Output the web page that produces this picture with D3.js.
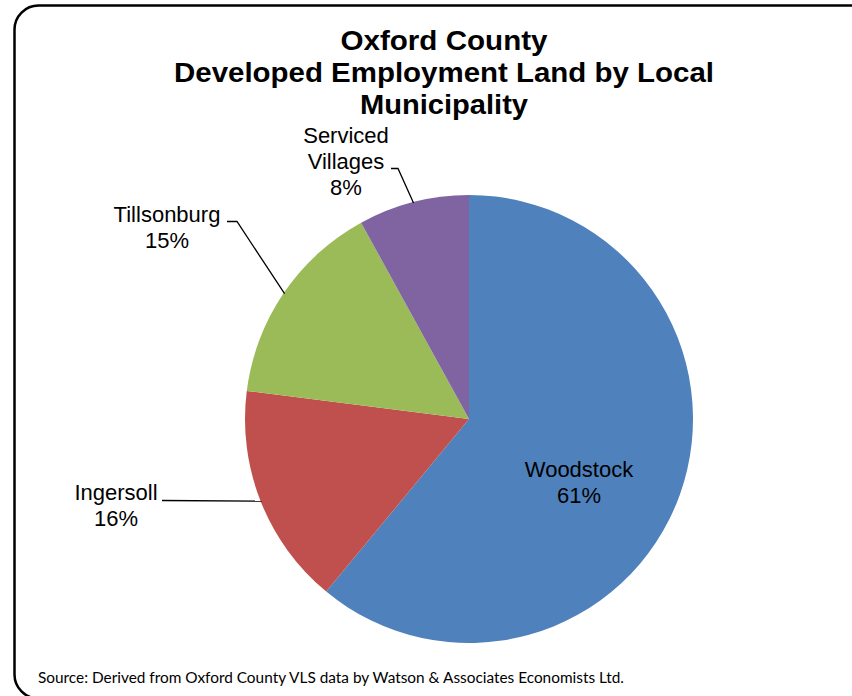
<!DOCTYPE html>
<html>
<head>
<meta charset="utf-8">
<script src="https://cdn.jsdelivr.net/npm/d3@7"></script>
<style>
  html, body { margin: 0; padding: 0; background: #fff; }
  svg { display: block; }
</style>
</head>
<body>
<div id="chart"></div>
<script>
// Developed employment land shares by local municipality (%)
const categories = ["Woodstock", "Ingersoll", "Tillsonburg", "Serviced Villages"];
const shares = [61, 16, 15, 8];
const labelLines = [["Woodstock"], ["Ingersoll"], ["Tillsonburg"], ["Serviced", "Villages"]];
const titleLines = ["Oxford County", "Developed Employment Land by Local", "Municipality"];
const sourceNote = "Source: Derived from Oxford County VLS data by Watson & Associates Economists Ltd.";

const palette = ["#4F81BD", "#C0504D", "#9BBB59", "#8064A2"];

const W = 852, H = 696;
const cx = 469, cy = 419, R = 224;

const svg = d3.select("#chart").append("svg")
  .attr("width", W).attr("height", H);

// chart frame
svg.append("rect")
  .attr("x", 14.5).attr("y", 5.5)
  .attr("width", 900).attr("height", 693)
  .attr("rx", 24).attr("ry", 24)
  .attr("fill", "#fff")
  .attr("stroke", "#000").attr("stroke-width", 2.5);

// title
const titleWidths = [207, 540, 168];
const title = svg.append("g");
titleLines.forEach((t, i) => {
  title.append("text")
    .attr("x", 444).attr("y", 50 + i * 32)
    .attr("text-anchor", "middle")
    .attr("font-family", "'Liberation Sans', Arial, sans-serif")
    .attr("font-weight", "bold")
    .attr("font-size", 27)
    .attr("textLength", titleWidths[i])
    .attr("lengthAdjust", "spacingAndGlyphs")
    .attr("fill", "#000")
    .text(t);
});

// pie
const color = d3.scaleOrdinal().domain(categories).range(palette);
const pie = d3.pie().sort(null).value(d => d.value);
const data = categories.map((c, i) => ({ name: c, value: shares[i], lines: labelLines[i] }));
const arcs = pie(data);
const arc = d3.arc().innerRadius(0).outerRadius(R);

const g = svg.append("g").attr("transform", `translate(${cx},${cy})`);
g.selectAll("path.slice")
  .data(arcs)
  .join("path")
  .attr("class", "slice")
  .attr("d", arc)
  .attr("fill", d => color(d.data.name));

// label placement (relative to pie centre): text anchor point and leader start/elbow
const labelLayout = [
  { x: 110, y: 58, leader: false },
  { x: -353, y: 81, leader: true, lx: -307, ly: 81.5 },
  { x: -302, y: -197, leader: true, lx: -242, ly: -197.5, ex: -232 },
  { x: -123, y: -276, leader: true, lx: -78, ly: -250.5, ex: -71 }
];

const fontLabel = "'Liberation Sans', Arial, sans-serif";
const lineH = 26;

arcs.forEach((a, i) => {
  const L = labelLayout[i];
  const lines = a.data.lines.concat([a.data.value + "%"]);
  const t = g.append("text")
    .attr("text-anchor", "middle")
    .attr("font-family", fontLabel)
    .attr("font-size", 22)
    .attr("fill", "#000");
  lines.forEach((ln, k) => {
    t.append("tspan").attr("x", L.x).attr("y", L.y + k * lineH).text(ln);
  });

  if (L.leader) {
    const mid = (a.startAngle + a.endAngle) / 2;
    const px = (R - 1) * Math.sin(mid), py = -(R - 1) * Math.cos(mid);
    const pts = [[L.lx, L.ly]];
    if (L.ex !== undefined) pts.push([L.ex, L.ly]);
    pts.push([px, py]);
    g.append("path")
      .attr("d", d3.line()(pts))
      .attr("fill", "none")
      .attr("stroke", "#000")
      .attr("stroke-width", 1.3);
  }
});

// source note
svg.append("text")
  .attr("x", 38).attr("y", 683)
  .attr("font-family", "Lato, 'Open Sans', sans-serif")
  .attr("font-size", 14.5)
  .attr("textLength", 586)
  .attr("lengthAdjust", "spacingAndGlyphs")
  .attr("fill", "#000")
  .text(sourceNote);
</script>
</body>
</html>
